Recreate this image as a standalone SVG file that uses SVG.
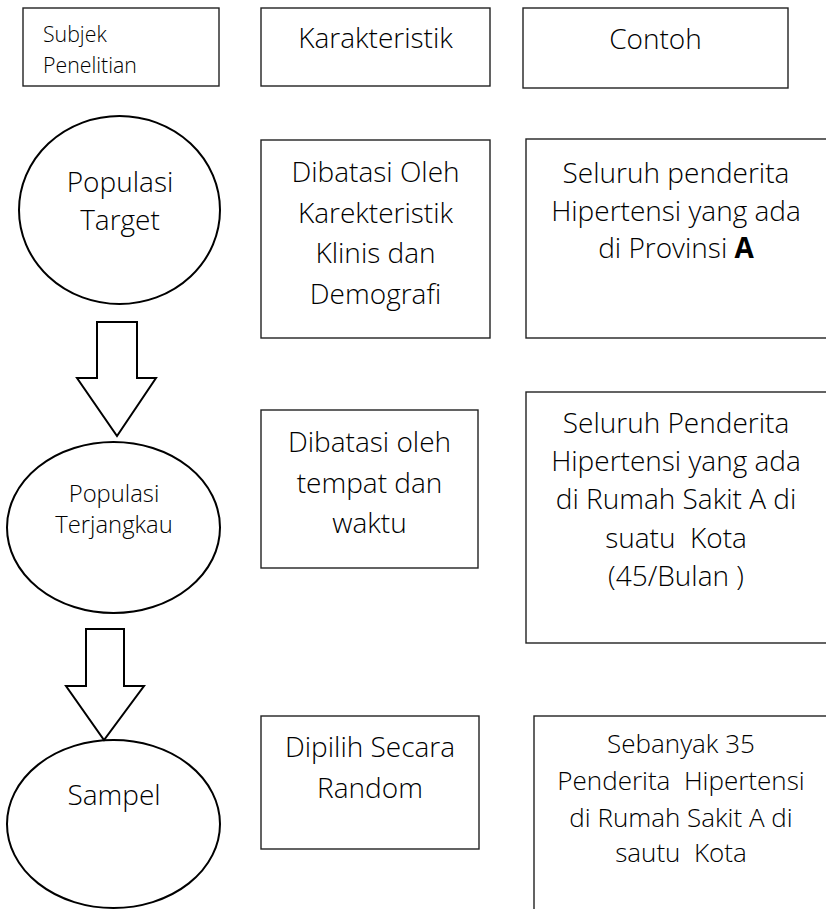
<svg xmlns="http://www.w3.org/2000/svg" width="826" height="909" viewBox="0 0 826 909">
<style>
.box{fill:#fff;stroke:#222;stroke-width:1.4}
.ell{fill:#fff;stroke:#000;stroke-width:2}
.arr{fill:#fff;stroke:#000;stroke-width:2;stroke-linejoin:miter}
text{font-family:"Open Sans","Noto Sans","DejaVu Sans",sans-serif;fill:#000;font-weight:300;text-anchor:middle}
.t{font-size:28px}
.s{font-size:21.3px;text-anchor:start}
.m{font-size:23.8px}
.r{font-size:26px}
</style>
<rect width="826" height="909" fill="#fff"/>
<g id="hdr-subjek">
<rect class="box" x="23" y="8" width="196" height="78"/>
<text class="s" x="43" y="42">Subjek</text>
<text class="s" x="43" y="73">Penelitian</text>
</g>
<g id="hdr-karakteristik">
<rect class="box" x="261" y="8" width="229" height="78"/>
<text class="t" x="375.5" y="48">Karakteristik</text>
</g>
<g id="hdr-contoh">
<rect class="box" x="523" y="8" width="265" height="80"/>
<text class="t" x="655.5" y="49">Contoh</text>
</g>
<g id="pop-target">
<ellipse class="ell" cx="119.5" cy="210" rx="100.5" ry="94"/>
<text class="t" x="120" y="192">Populasi</text>
<text class="t" x="120" y="230">Target</text>
</g>
<g id="kar-target">
<rect class="box" x="261" y="140" width="229" height="198"/>
<text class="t" x="375.5" y="182">Dibatasi Oleh</text>
<text class="t" x="375.5" y="223">Karekteristik</text>
<text class="t" x="375.5" y="263">Klinis dan</text>
<text class="t" x="375.5" y="304">Demografi</text>
</g>
<g id="ex-target">
<rect class="box" x="526" y="139" width="302" height="199"/>
<text class="t" x="676" y="183">Seluruh penderita</text>
<text class="t" x="676" y="221">Hipertensi yang ada</text>
<text class="t" x="676" y="258">di Provinsi <tspan style="font-weight:700">A</tspan></text>
</g>
<g id="pop-terjangkau">
<ellipse class="ell" cx="113.5" cy="527.5" rx="106.5" ry="85.5"/>
<text class="m" x="114" y="502">Populasi</text>
<text class="m" x="114" y="533">Terjangkau</text>
</g>
<g id="kar-terjangkau">
<rect class="box" x="261" y="410" width="217" height="158"/>
<text class="t" x="369.5" y="452">Dibatasi oleh</text>
<text class="t" x="369.5" y="493">tempat dan</text>
<text class="t" x="369.5" y="533">waktu</text>
</g>
<g id="ex-terjangkau">
<rect class="box" x="526" y="392" width="302" height="251"/>
<text class="t" x="676" y="433">Seluruh Penderita</text>
<text class="t" x="676" y="471">Hipertensi yang ada</text>
<text class="t" x="676" y="509">di Rumah Sakit A di</text>
<text class="t" x="676" y="548" style="white-space:pre">suatu  Kota</text>
<text class="t" x="676" y="586">(45/Bulan )</text>
</g>
<g id="sampel">
<ellipse class="ell" cx="113.5" cy="824" rx="106.5" ry="84"/>
<text class="t" x="114" y="805">Sampel</text>
</g>
<g id="kar-sampel">
<rect class="box" x="261" y="716" width="218" height="133"/>
<text class="t" x="370" y="757">Dipilih Secara</text>
<text class="t" x="370" y="798">Random</text>
</g>
<g id="ex-sampel">
<rect class="box" x="534" y="716" width="300" height="220"/>
<text class="r" x="681" y="753">Sebanyak 35</text>
<text class="r" x="681" y="790" style="white-space:pre">Penderita  Hipertensi</text>
<text class="r" x="681" y="827">di Rumah Sakit A di</text>
<text class="r" x="681" y="862" style="white-space:pre">sautu  Kota</text>
</g>
<g id="connectors">
<path class="arr" d="M97,322 H137 V378 H156 L117,436 L77,378 H97 Z"/>
<path class="arr" d="M86,629 H124 V686 H144 L104,740 L66,686 H86 Z"/>
</g>
</svg>
